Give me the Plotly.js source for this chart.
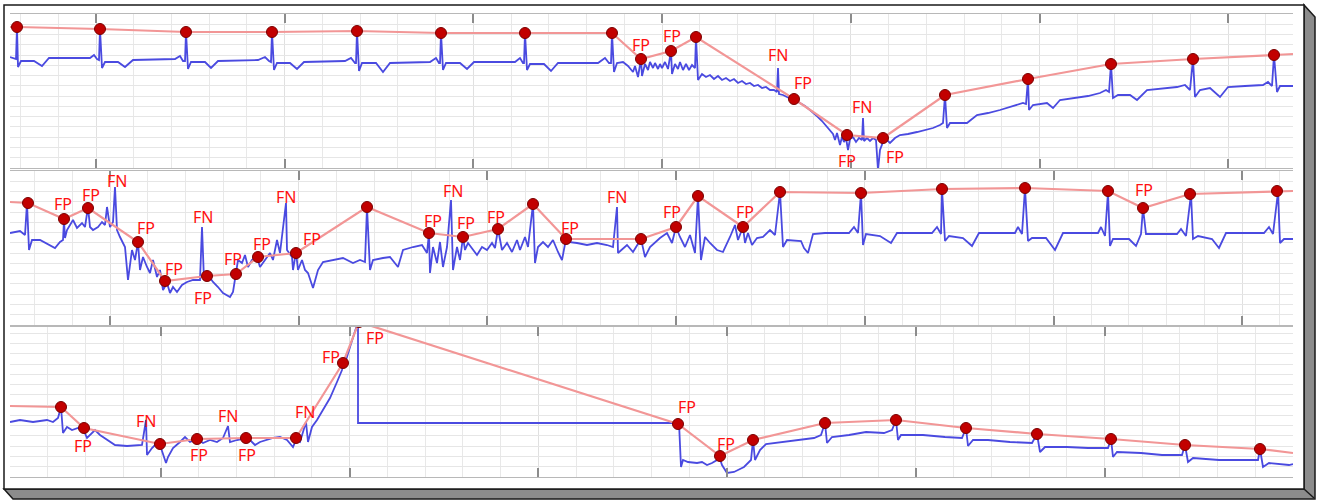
<!DOCTYPE html>
<html><head><meta charset="utf-8">
<script src="https://cdn.plot.ly/plotly-3.0.1.min.js"></script>
<style>html,body{margin:0;padding:0;background:#fff;}#chart{width:1319px;height:500px;}</style>
</head><body><div id="chart"></div>
<script>
// ---- DATA (x: sample index, y: amplitude in 10 µV units above panel baseline) ----
// Panel 1 ECG trace
const ecg1 = [[0,111],[4,110],[6,109],[7,141],[8,101],[11,107],[24,107],[32,102],[39,110],[80,110],[84,113],[87,109],[89,108],
[90,139],[92,100],[95,106],[108,106],[115,101],[123,108],[165,109],[170,112],[173,107],[175,107],
[176,136],[178,99],[181,106],[195,106],[201,100],[208,107],[248,108],[255,111],[259,107],[261,106],
[262,136],[264,98],[267,105],[280,105],[287,99],[294,106],[335,107],[341,110],[345,105],[346,105],
[347,137],[349,97],[352,105],[366,105],[373,96],[380,105],[420,106],[426,110],[429,105],[430,105],
[431,135],[433,98],[436,105],[450,105],[457,99],[464,106],[505,106],[510,110],[513,105],[514,105],
[515,135],[517,98],[520,104],[534,104],[541,97],[548,105],[588,105],[595,110],[599,105],[601,105],
[602,135],[604,96],[607,105],[613,106],[618,102],[620,100],[623,96],[625,102],[628,91],[630,103],[631,109],[632,92],[635,104],[638,98],[640,106],[643,100],[645,105],[648,99],[650,104],[652,100],[655,106],[658,99],[661,117],[662,94],[665,104],[668,99],[670,106],[673,98],[676,104],[679,98],[682,103],[685,100],
[686,131],[688,88],[692,94],[696,91],[700,93],[704,89],[708,92],[712,88],[716,90],[720,87],[724,89],[728,85],[732,87],[736,84],[740,85],[744,82],[748,83],[752,80],[756,81],[760,78],[764,78],[767,76],[768,100],[769,74],[773,73],[777,71],[781,69],[785,68],[790,65],[795,62],[800,58],[805,54],[808,51],[812,47],[816,42],[820,38],[823,34],[825,28],[827,35],[830,23],[832,31],[834,26],[836,30],[838,18],[840,29],[843,31],[846,26],[849,30],[852,28],[853,50],[854,27],[857,30],[860,27],[863,30],[866,28],[868,-2],[870,18],[873,26],[877,28],[880,25],[885,30],[890,33],[898,34],[907,36],[915,38],[923,40],[930,43],[933,45],
[935,73],[937,40],[940,45],[957,45],[967,53],[978,55],[990,58],[1007,63],[1013,65],[1016,64],
[1018,89],[1019,58],[1023,63],[1037,65],[1043,60],[1050,68],[1063,70],[1078,72],[1090,75],[1096,78],[1099,76],
[1101,104],[1103,70],[1108,73],[1120,73],[1127,68],[1137,78],[1150,79],[1167,81],[1175,83],[1180,78],
[1183,109],[1185,71],[1190,78],[1200,80],[1210,71],[1218,81],[1235,82],[1253,83],[1258,86],[1262,82],
[1264,113],[1267,76],[1270,82],[1283,82]];
// Panel 1 detections and trend end points
const det1 = [[7,141],[90,139],[176,136],[262,136],[347,137],[431,135],[515,135],[602,135],[631,109],[661,117],[686,131],[784,69],[837,33],[873,30],[935,73],[1018,89],[1101,104],[1183,109],[1264,113]];
const ends1 = [[0,141],[1283,114]];
const lab1 = [['FP',631,123],['FP',662,132],['FN',768,113],['FP',793,85],['FN',852,61],['FP',837,7],['FP',885,11]];

// Panel 2
const ecg2 = [[0,92],[10,94],[15,90],[17,122],[19,75],[22,85],[30,85],[40,80],[45,77],[50,83],[53,85],[54,105],[55,87],[57,95],[60,100],[63,105],[67,97],[72,102],[75,98],[78,118],[80,98],[83,95],[88,98],[92,103],[95,100],[97,118],[100,98],[103,103],[105,138],[107,95],[110,88],[115,78],[118,45],[122,75],[125,65],[128,83],[130,55],[133,68],[137,58],[140,52],[143,65],[147,48],[150,55],[153,35],[157,42],[160,32],[163,38],[167,33],[172,40],[177,43],[183,45],[190,45],[192,98],[194,45],[198,50],[203,43],[208,38],[213,32],[220,28],[223,33],[226,52],[228,65],[232,62],[235,70],[238,58],[242,65],[247,68],[250,58],[255,65],[260,72],[263,65],[267,85],[270,72],[276,122],[277,75],[282,68],[283,55],[286,73],[288,55],[292,65],[295,55],[298,52],[303,37],[308,55],[313,63],[323,65],[333,67],[343,62],[350,65],[355,63],[357,118],[360,55],[363,65],[373,67],[380,68],[388,58],[393,75],[403,78],[412,80],[417,72],[419,92],[420,52],[423,78],[427,62],[430,83],[433,58],[437,78],[441,125],[443,55],[447,78],[450,65],[453,88],[455,75],[458,82],[462,77],[467,70],[472,78],[477,75],[482,82],[485,77],[488,96],[492,75],[497,82],[502,73],[507,85],[510,75],[515,88],[518,78],[523,121],[525,62],[528,78],[533,83],[538,78],[543,85],[548,73],[552,65],[556,86],[558,83],[567,82],[577,80],[587,82],[597,80],[603,78],[607,118],[608,72],[617,80],[623,73],[631,86],[635,68],[640,78],[650,87],[657,92],[662,82],[666,98],[670,88],[675,78],[680,90],[685,72],[688,129],[691,65],[695,88],[700,82],[707,75],[713,73],[720,88],[725,100],[728,85],[733,98],[735,82],[738,92],[742,80],[747,87],[753,88],[760,95],[765,90],[770,133],[773,78],[777,85],[791,84],[794,77],[798,72],[803,91],[815,92],[839,92],[844,98],[848,92],[851,132],[853,80],[856,91],[870,89],[881,82],[887,92],[922,92],[927,98],[931,91],[932,136],[935,84],[939,89],[953,87],[962,79],[969,92],[1005,92],[1008,98],[1012,91],[1015,137],[1018,84],[1022,87],[1036,87],[1045,75],[1053,92],[1088,92],[1091,98],[1095,89],[1098,133],[1100,79],[1103,86],[1119,86],[1126,79],[1131,91],[1133,117],[1136,91],[1167,91],[1171,96],[1176,89],[1181,131],[1183,86],[1188,89],[1202,86],[1209,77],[1216,92],[1254,92],[1259,98],[1263,91],[1268,133],[1270,82],[1274,86],[1283,86]];
const det2 = [[18,122],[54,106],[78,117],[128,83],[155,44],[197,49],[226,51],[248,68],[286,72],[357,118],[419,92],[453,88],[488,96],[523,121],[556,86],[631,86],[666,98],[688,129],[733,98],[770,133],[851,132],[932,136],[1015,137],[1098,134],[1133,117],[1180,131],[1267,134]];
const ends2 = [[0,123],[1283,134]];
const stray2 = [[1135,157]];
const lab2 = [['FP',53,121],['FP',81,130],['FN',107,144],['FP',136,97],['FN',193,108],['FP',164,56],['FP',193,27],['FP',223,66],['FP',252,81],['FN',276,128],['FP',302,86],['FP',423,104],['FN',443,134],['FP',456,102],['FP',486,108],['FP',560,97],['FN',607,128],['FP',662,113],['FP',735,113],['FP',1134,135]];

// Panel 3
const ecg3 = [[0,55],[10,57],[23,55],[37,57],[43,55],[48,59],[51,70],[53,44],[57,50],[62,47],[68,49],[74,46],[77,39],[82,44],[85,47],[90,42],[97,37],[105,32],[117,31],[127,32],[132,32],[136,57],[137,22],[142,29],[147,34],[150,32],[153,24],[156,14],[158,20],[163,29],[170,35],[175,40],[180,35],[187,38],[193,34],[200,37],[207,35],[213,39],[218,51],[220,35],[227,37],[236,39],[240,37],[245,32],[250,35],[257,37],[263,39],[270,40],[277,37],[283,30],[286,37],[290,35],[296,55],[298,35],[302,50],[307,57],[313,67],[320,79],[327,95],[332,107],[333,114],[336,117],[340,130],[345,147],[347,152],[348,151],[348,54],[669,54],[671,10],[673,17],[678,15],[687,14],[692,15],[697,12],[702,14],[707,17],[709,21],[712,12],[717,4],[724,5],[734,10],[741,17],[743,37],[745,17],[750,27],[756,33],[774,35],[791,37],[804,39],[811,42],[815,54],[817,34],[822,40],[839,42],[856,45],[874,44],[882,47],[886,57],[888,37],[891,42],[913,42],[935,40],[952,39],[956,49],[958,31],[963,37],[978,37],[1000,35],[1022,34],[1027,43],[1030,25],[1035,30],[1057,30],[1078,29],[1098,29],[1101,38],[1103,20],[1107,25],[1131,24],[1152,22],[1172,22],[1175,32],[1178,15],[1183,19],[1209,17],[1231,17],[1248,17],[1250,28],[1253,10],[1259,14],[1279,12],[1283,13]];
const det3 = [[51,70],[74,49],[150,33],[187,38],[236,39],[286,39],[333,114],[349,155],[668,53],[710,21],[743,37],[815,54],[886,57],[956,49],[1027,43],[1101,38],[1175,32],[1250,28]];
const ends3 = [[0,71],[1283,24]];
const lab3 = [['FP',73,31],['FN',136,56],['FP',189,22],['FN',218,61],['FP',237,22],['FN',295,65],['FP',321,120],['FP',365,139],['FP',677,70],['FP',716,33]];

// ---- STYLE / LAYOUT ----
const W = 1319, H = 500;
const MAJOR = 188.7;
const BLUE = '#4a4ae0', PINK = '#f29696', DOT = '#c20000';
const px = v => v / W, py = v => 1 - v / H;

const panels = [
  {ecg: ecg1, det: det1, ends: ends1, lab: lab1, xa: 'x',  ya: 'y',  top: 14,  bottom: 168, span: 154, tick0: 86},
  {ecg: ecg2, det: det2, ends: ends2, lab: lab2, xa: 'x2', ya: 'y2', top: 171, bottom: 325, span: 154, tick0: 100},
  {ecg: ecg3, det: det3, ends: ends3, lab: lab3, xa: 'x3', ya: 'y3', top: 327, bottom: 477, span: 150, tick0: 151}
];

const traces = [];
const annotations = [];
const layout = {
  width: W, height: H,
  margin: {l: 0, r: 0, t: 0, b: 0},
  paper_bgcolor: '#ffffff', plot_bgcolor: 'rgba(0,0,0,0)',
  showlegend: false,
  font: {family: 'Noto Sans, Open Sans, sans-serif'},
  shapes: [
    {type: 'path', xref: 'paper', yref: 'paper', layer: 'below',
     path: `M ${px(4)} ${py(489)} L ${px(13)} ${py(499)} L ${px(1315)} ${py(499)} L ${px(1315)} ${py(17)} L ${px(1304)} ${py(5)} L ${px(1304)} ${py(489)} Z`,
     fillcolor: '#8c8c8c', line: {color: '#1a1a1a', width: 1.5}},
    {type: 'rect', xref: 'paper', yref: 'paper', layer: 'below',
     x0: px(4), y0: py(489), x1: px(1304), y1: py(5),
     fillcolor: '#ffffff', line: {color: '#1a1a1a', width: 1.5}},
    {type: 'line', xref: 'paper', yref: 'paper', layer: 'below',
     x0: px(1304), y0: py(489), x1: px(1314), y1: py(498), line: {color: '#1a1a1a', width: 1.5}}
  ],
  annotations: annotations
};

panels.forEach((p, i) => {
  const sfx = i === 0 ? '' : String(i + 1);
  layout['xaxis' + sfx] = {
    domain: [px(10), px(1293)], range: [0, 1283], anchor: p.ya,
    showticklabels: false, ticks: 'inside', ticklen: 9, tickwidth: 2, tickcolor: '#8c8c8c',
    tick0: p.tick0, dtick: MAJOR,
    showline: true, linecolor: '#b8b8b8', linewidth: 1, mirror: 'ticks',
    showgrid: true, gridcolor: '#e0e0e0', gridwidth: 1, zeroline: false,
    minor: {tick0: p.tick0, dtick: MAJOR / 5, showgrid: true, gridcolor: '#e8e8e8', gridwidth: 1, ticks: ''},
    fixedrange: true
  };
  layout['yaxis' + sfx] = {
    domain: [py(p.bottom), py(p.top)], range: [0, p.span], anchor: p.xa,
    showticklabels: false, ticks: '', showgrid: true, gridcolor: '#e6e6e6', gridwidth: 1,
    tick0: 0, dtick: 10.27, zeroline: false, showline: false, fixedrange: true
  };
  // ECG trace
  traces.push({type: 'scatter', mode: 'lines', xaxis: p.xa, yaxis: p.ya,
    x: p.ecg.map(d => d[0]), y: p.ecg.map(d => d[1]),
    line: {color: BLUE, width: 1.8}, hoverinfo: 'skip'});
  // trend line through detections
  const trend = [p.ends[0]].concat(p.det, [p.ends[1]]);
  traces.push({type: 'scatter', mode: 'lines', xaxis: p.xa, yaxis: p.ya,
    x: trend.map(d => d[0]), y: trend.map(d => d[1]),
    line: {color: PINK, width: 2.2}, hoverinfo: 'skip'});
  // detection markers
  traces.push({type: 'scatter', mode: 'markers', xaxis: p.xa, yaxis: p.ya,
    x: p.det.map(d => d[0]), y: p.det.map(d => d[1]),
    marker: {color: DOT, size: 11, line: {color: '#7a0000', width: 1}}, hoverinfo: 'skip'});
  p.lab.forEach(l => {
    annotations.push({xref: p.xa, yref: p.ya, x: l[1], y: l[2], text: l[0], showarrow: false,
      xanchor: 'center', yanchor: 'middle',
      font: {family: 'Noto Sans, Open Sans, sans-serif', size: 16, color: '#ff1010'}});
  });
});

// partially cropped detection marker of panel 2 (sits just above its top edge)
traces.push({type: 'scatter', mode: 'markers', xaxis: 'x2', yaxis: 'y2', cliponaxis: false,
  x: stray2.map(d => d[0]), y: stray2.map(d => d[1]),
  marker: {color: DOT, size: 11, line: {color: '#7a0000', width: 1}}, hoverinfo: 'skip'});

Plotly.newPlot('chart', traces, layout, {displayModeBar: false, staticPlot: true});
</script></body></html>
